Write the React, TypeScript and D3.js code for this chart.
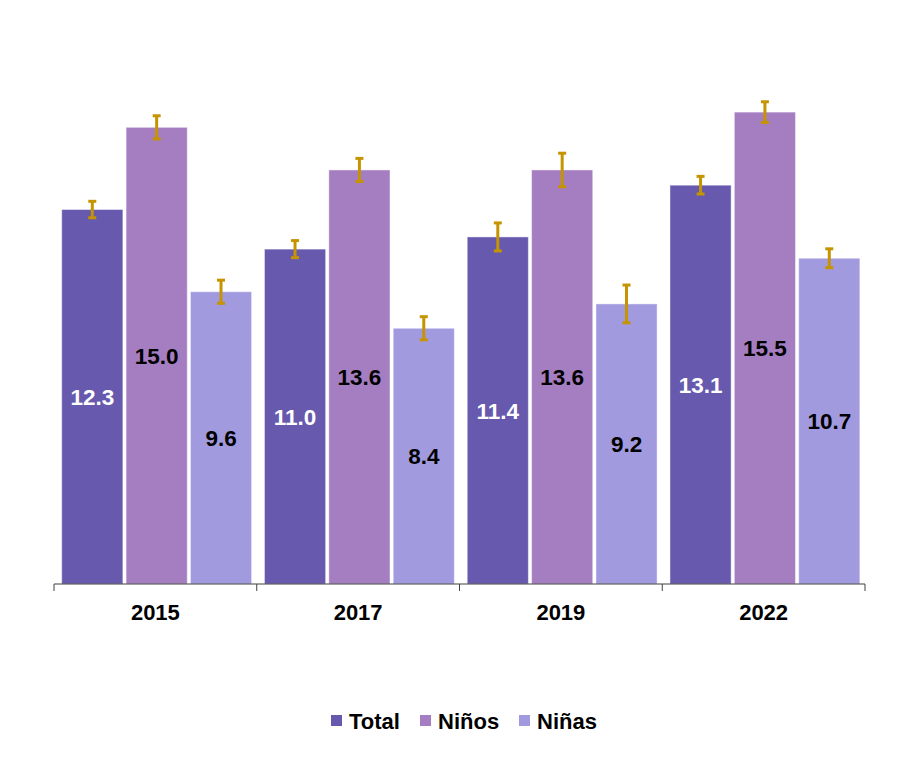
import React from 'react';
import * as d3 from 'd3';

const years = ['2015', '2017', '2019', '2022'];
const seriesNames = ['Total', 'Niños', 'Niñas'];
const totalValues = [12.3, 11.0, 11.4, 13.1];
const ninosValues = [15.0, 13.6, 13.6, 15.5];
const ninasValues = [9.6, 8.4, 9.2, 10.7];
// half-width of the confidence interval
const totalErr = [0.27, 0.28, 0.46, 0.29];
const ninosErr = [0.38, 0.38, 0.55, 0.34];
const ninasErr = [0.38, 0.38, 0.62, 0.31];

const colors = ['#6659ae', '#a57dc1', '#a29adf'];
const labelColors = ['#ffffff', '#000000', '#000000'];
const errColor = '#c59400';
const font = '"Liberation Sans", Arial, sans-serif';

const width = 906;
const height = 774;
const margin = { top: 36, right: 41, bottom: 190, left: 54 };

export default function App() {
  const values = [totalValues, ninosValues, ninasValues];
  const errs = [totalErr, ninosErr, ninasErr];

  const x0 = d3.scaleBand<string>()
    .domain(years)
    .range([margin.left, width - margin.right])
    .paddingInner(0)
    .paddingOuter(0);

  const x1 = d3.scaleBand<string>()
    .domain(seriesNames)
    .range([0, x0.bandwidth()])
    .paddingInner(0.05)
    .paddingOuter(0.1)
    .align(0.6);

  const y = d3.scaleLinear()
    .domain([0, 18])
    .range([height - margin.bottom, margin.top]);

  const baseY = y(0);
  const tickXs = [...years.map(yr => x0(yr) as number), width - margin.right];

  // legend layout
  const legendItems = [
    { name: 'Total', x: 331 },
    { name: 'Niños', x: 420 },
    { name: 'Niñas', x: 519 },
  ];

  return (
    <div style={{ position: 'absolute', left: 0, top: 0 }}>
      <svg width={width} height={height} style={{ display: 'block', background: '#fff' }}>
        {years.map((yr, i) => (
          <g key={yr} transform={`translate(${x0(yr)},0)`}>
            {seriesNames.map((s, j) => {
              const v = values[j][i];
              const e = errs[j][i];
              const bx = x1(s) as number;
              const bw = x1.bandwidth();
              const cx = bx + bw / 2;
              return (
                <g key={s}>
                  <rect
                    x={bx}
                    y={y(v)}
                    width={bw}
                    height={baseY - y(v)}
                    fill={colors[j]}
                    stroke="#ffffff"
                    strokeOpacity={0.45}
                    strokeWidth={1}
                  />
                  <line x1={cx} x2={cx} y1={y(v + e)} y2={y(v - e)} stroke={errColor} strokeWidth={3} />
                  <line x1={cx - 4} x2={cx + 4} y1={y(v + e)} y2={y(v + e)} stroke={errColor} strokeWidth={3} />
                  <line x1={cx - 4} x2={cx + 4} y1={y(v - e)} y2={y(v - e)} stroke={errColor} strokeWidth={3} />
                  <text
                    x={cx}
                    y={(y(v) + baseY) / 2}
                    dy="0.36em"
                    textAnchor="middle"
                    fill={labelColors[j]}
                    fontFamily={font}
                    fontWeight="bold"
                    fontSize={22.5}
                  >
                    {v.toFixed(1)}
                  </text>
                </g>
              );
            })}
            <text
              x={x0.bandwidth() / 2}
              y={620}
              textAnchor="middle"
              fontFamily={font}
              fontWeight="bold"
              fontSize={22}
              fill="#000"
            >
              {yr}
            </text>
          </g>
        ))}

        <line x1={margin.left} x2={width - margin.right} y1={baseY} y2={baseY} stroke="#404040" strokeWidth={1} />
        {tickXs.map((tx, i) => (
          <line key={i} x1={tx} x2={tx} y1={baseY} y2={baseY + 7} stroke="#404040" strokeWidth={1} />
        ))}

        {legendItems.map((it, j) => (
          <g key={it.name}>
            <rect x={it.x} y={715} width={11} height={11} fill={colors[j]} />
            <text x={it.x + 18} y={729} fontFamily={font} fontWeight="bold" fontSize={22} fill="#000">
              {it.name}
            </text>
          </g>
        ))}
      </svg>
    </div>
  );
}
